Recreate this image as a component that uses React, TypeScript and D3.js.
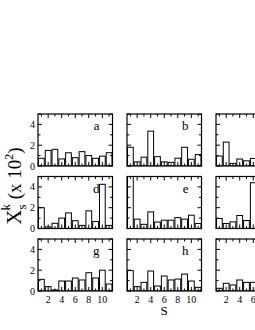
import React from "react";
import * as d3 from "d3";

const sizes = [1, 2, 3, 4, 5, 6, 7, 8, 9, 10, 11];
const xTickValues = [2, 4, 6, 8, 10];
const yTickValues = [0, 2, 4];
const letters = ["a", "b", "c", "d", "e", "f", "g", "h", "i"];

const seriesA = [0.74, 1.5, 1.6, 0.68, 1.27, 0.8, 1.38, 1.0, 0.74, 0.95, 1.28];
const seriesB = [1.8, 0.4, 0.85, 3.35, 0.9, 0.4, 0.35, 0.75, 1.8, 0.65, 1.1];
const seriesC = [0.96, 2.3, 0.25, 0.67, 0.5, 0.73];
const seriesD = [2.0, 0.15, 0.5, 1.0, 1.5, 0.75, 0.3, 1.7, 0.67, 4.25, 0.3];
const seriesE = [6.0, 0.9, 0.4, 1.6, 0.62, 0.8, 0.8, 1.05, 0.9, 1.28, 0.48];
const seriesF = [0.96, 0.48, 0.64, 1.25, 0.77, 4.4];
const seriesG = [1.12, 0.42, 0.1, 0.96, 0.96, 1.25, 1.06, 1.76, 1.25, 2.0, 0.67];
const seriesH = [1.96, 0.42, 0.83, 1.92, 0.48, 1.44, 1.06, 1.15, 1.63, 0.96, 0.35];
const seriesI = [0.26, 0.74, 0.58, 1.06, 0.83, 0.83];

const panels = [seriesA, seriesB, seriesC, seriesD, seriesE, seriesF, seriesG, seriesH, seriesI];

const W = 255;
const H = 330;
const colLeft = [38, 127, 216];
const rowTop = [114, 176.5, 239];
const pw = 74.5;
const ph = 52;
const FONT = "'Liberation Serif', 'DejaVu Serif', serif";

function Panel({ data, idx }: { data: number[]; idx: number }) {
  const col = idx % 3;
  const row = Math.floor(idx / 3);
  const x0 = colLeft[col];
  const y0 = rowTop[row];
  const x = d3.scaleLinear().domain([0.5, 11.5]).range([0, pw]);
  const y = d3.scaleLinear().domain([0, 5]).range([ph, 0]);
  const bw = (x(2) - x(1)) * 0.85;
  const xt = d3.range(1, 12);
  const yt = d3.range(0, 6);
  const clipId = `clip${idx}`;
  return (
    <g transform={`translate(${x0},${y0})`}>
      <defs>
        <clipPath id={clipId}>
          <rect x={0} y={0} width={pw} height={ph} />
        </clipPath>
      </defs>
      <g clipPath={`url(#${clipId})`}>
        {data.map((v, i) => (
          <rect
            key={i}
            x={x(sizes[i]) - bw / 2}
            y={y(v)}
            width={bw}
            height={ph - y(v)}
            fill="white"
            stroke="black"
            strokeWidth={1}
          />
        ))}
      </g>
      {xt.map((t) => {
        const len = t % 2 === 0 ? 4 : 2.5;
        return (
          <g key={"x" + t}>
            <line x1={x(t)} x2={x(t)} y1={ph} y2={ph - len} stroke="black" strokeWidth={1} />
            <line x1={x(t)} x2={x(t)} y1={0} y2={len} stroke="black" strokeWidth={1} />
          </g>
        );
      })}
      {yt.map((t) => {
        const len = t % 2 === 0 ? 4 : 2.5;
        return (
          <g key={"y" + t}>
            <line x1={0} x2={len} y1={y(t)} y2={y(t)} stroke="black" strokeWidth={1} />
            <line x1={pw} x2={pw - len} y1={y(t)} y2={y(t)} stroke="black" strokeWidth={1} />
          </g>
        );
      })}
      <rect x={0} y={0} width={pw} height={ph} fill="none" stroke="black" strokeWidth={1.2} />
      <text x={pw - 13} y={16} textAnchor="end" fontSize={13} fontFamily={FONT}>
        {letters[idx]}
      </text>
      {col === 0 &&
        yTickValues.map((t) => (
          <text key={"yl" + t} x={-3} y={y(t) + 3.5} textAnchor="end" fontSize={10} fontFamily={FONT}>
            {t}
          </text>
        ))}
      {row === 2 &&
        xTickValues.map((t) => (
          <text key={"xl" + t} x={x(t)} y={ph + 12} textAnchor="middle" fontSize={10} fontFamily={FONT}>
            {t}
          </text>
        ))}
    </g>
  );
}

export default function App() {
  return (
    <svg
      width={W}
      height={H}
      style={{ position: "absolute", left: 0, top: 0, background: "white" }}
    >
      <rect x={0} y={0} width={W} height={H} fill="white" />
      {panels.map((d, i) => (
        <Panel key={i} data={d} idx={i} />
      ))}
      <text x={164} y={315} textAnchor="middle" fontSize={13} fontFamily={FONT}>
        S
      </text>
      <text
        transform="translate(21,186) rotate(-90)"
        textAnchor="middle"
        fontSize={21}
        fontFamily={FONT}
      >
        X
        <tspan fontSize={13} dy={5}>s</tspan>
        <tspan fontSize={13} dx={-6} dy={-16}>k</tspan>
        <tspan fontSize={19} dy={11}>{" (x 10"}</tspan>
        <tspan fontSize={12} dy={-8}>2</tspan>
        <tspan fontSize={19} dy={8}>)</tspan>
      </text>
    </svg>
  );
}
